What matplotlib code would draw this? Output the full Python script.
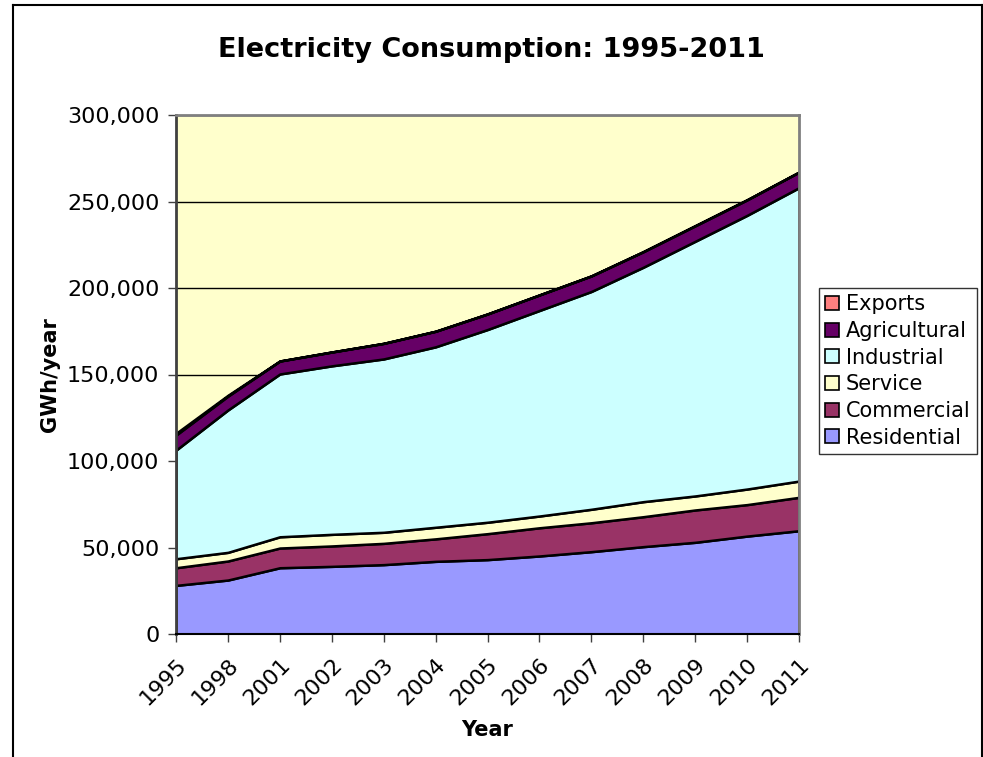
import matplotlib.pyplot as plt
from matplotlib.lines import Line2D
from matplotlib.patches import Patch
from matplotlib.ticker import FuncFormatter

years = ['1995', '1998', '2001', '2002', '2003', '2004', '2005',
         '2006', '2007', '2008', '2009', '2010', '2011']

# GWh per year, by sector
residential = [28100, 31200, 38300, 39100, 40100, 42000, 43000,
               45100, 47600, 50500, 53000, 56600, 59700]
commercial = [10200, 11000, 11400, 11800, 12300, 13000, 15000,
              16300, 16700, 17300, 18700, 18200, 19300]
service = [5200, 5000, 6500, 6700, 6400, 6700, 6600,
           6800, 7800, 8700, 8100, 9000, 9400]
industrial = [62800, 82300, 94100, 97400, 100200, 104300, 111400,
              118800, 125900, 135500, 147200, 158200, 169600]
agricultural = [8700, 8000, 7500, 8000, 9000, 9000, 9000,
                9000, 9000, 9000, 9000, 9000, 9000]
exports = [1000, 500, 0, 0, 0, 0, 0, 0, 0, 0, 0, 0, 0]

names = ['Residential', 'Commercial', 'Service', 'Industrial', 'Agricultural', 'Exports']
colors = ['#9999FF', '#993366', '#FFFFCC', '#CCFFFF', '#660066', '#FF8080']

plt.rcParams['font.family'] = 'DejaVu Sans'

fig = plt.figure(figsize=(9.83, 7.57), dpi=100)
ax = fig.add_axes([176 / 983, 1 - 634 / 757, 623 / 983, 519 / 757])
ax.set_facecolor('#FFFFCC')

x = list(range(len(years)))
ax.stackplot(x, residential, commercial, service, industrial, agricultural, exports,
             colors=colors, edgecolor='black', linewidth=1.8, zorder=2)

ax.set_xlim(0, len(years) - 1)
ax.set_ylim(0, 300000)
ax.set_yticks(range(0, 300001, 50000))
ax.yaxis.set_major_formatter(FuncFormatter(lambda v, p: f'{int(v):,}'))
ax.set_xticks(x)
ax.set_xticklabels(years, rotation=45, ha='right', rotation_mode='anchor')
ax.tick_params(axis='both', labelsize=16, length=6, width=1, color='#404040',
               direction='out', pad=6)
ax.tick_params(axis='x', pad=9)

ax.yaxis.grid(True, color='black', linewidth=1)
ax.set_axisbelow(True)

ax.spines['left'].set_color('#404040')
ax.spines['left'].set_linewidth(2)
ax.spines['bottom'].set_color('black')
ax.spines['bottom'].set_linewidth(1.5)
ax.spines['top'].set_color('#808080')
ax.spines['top'].set_linewidth(2)
ax.spines['right'].set_color('#808080')
ax.spines['right'].set_linewidth(2)

ax.set_ylabel('GWh/year', fontsize=15, fontweight='bold', labelpad=5)
ax.set_xlabel('Year', fontsize=15, fontweight='bold', labelpad=8)
fig.text(0.5, 1 - 50 / 757, 'Electricity Consumption: 1995-2011',
         ha='center', va='center', fontsize=19.5, fontweight='bold')

handles = [Patch(facecolor=c, edgecolor='black', linewidth=1.2) for c in colors]
leg = fig.legend(handles[::-1], names[::-1], loc='upper left',
                 bbox_to_anchor=(819 / 983, 1 - 288 / 757),
                 fontsize=15, frameon=True, fancybox=False, edgecolor='black',
                 handlelength=0.65, handleheight=0.65, handletextpad=0.35,
                 labelspacing=0.32, borderpad=0.3, borderaxespad=0)
leg.get_frame().set_linewidth(1)

# outer chart border
for xs, ys in [([13, 13], [0, 752]), ([13, 982], [752, 752]), ([982, 982], [0, 752])]:
    fig.add_artist(Line2D([v / 983 for v in xs], [v / 757 for v in ys],
                          color='black', linewidth=1.5))

fig.savefig('out.png', dpi=100)
